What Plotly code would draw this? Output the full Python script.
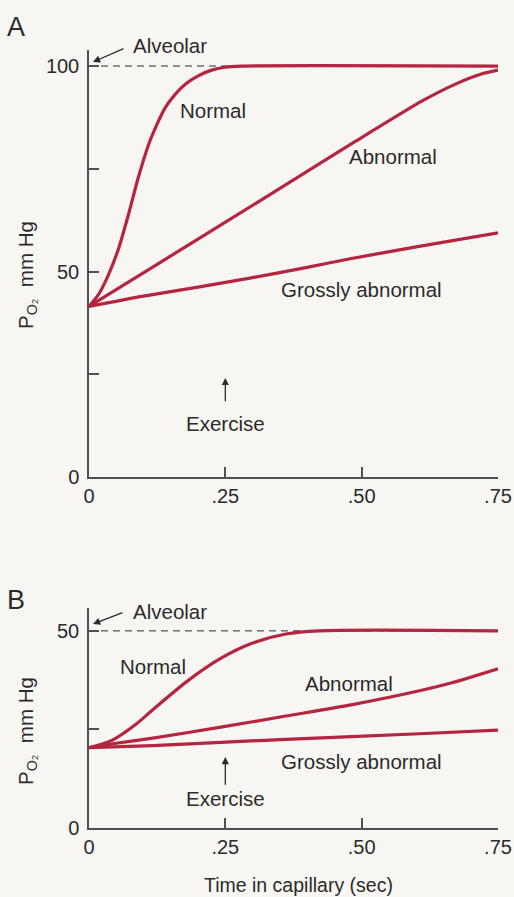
import plotly.graph_objects as go

# ---------------- data ----------------
# Panel A (alveolar PO2 = 100)
tA_normal = [0, 0.017, 0.035, 0.054, 0.072, 0.090, 0.109, 0.124, 0.139, 0.158, 0.176, 0.200, 0.225, 0.249, 0.28, 0.75]
vA_normal = [41.5, 44.3, 49.0, 55.5, 63.7, 72.7, 80.8, 85.6, 89.7, 93.1, 95.5, 97.6, 99.0, 99.7, 100, 100]
tA_abnormal = [0, 0.122, 0.245, 0.367, 0.489, 0.611, 0.672, 0.721, 0.75]
vA_abnormal = [41.5, 51.5, 61.6, 71.6, 81.7, 91.5, 95.6, 98.1, 99.0]
tA_gross = [0, 0.1, 0.2, 0.295, 0.4, 0.479, 0.6, 0.75]
vA_gross = [41.5, 44.0, 46.2, 48.4, 51.0, 53.1, 56.0, 59.4]
alveolar_A = 100

# Panel B (alveolar PO2 = 50)
tB_normal = [0, 0.043, 0.086, 0.117, 0.178, 0.239, 0.30, 0.361, 0.422, 0.75]
vB_normal = [20.4, 22.3, 26.3, 30.0, 37.0, 42.8, 46.9, 49.2, 50, 50]
tB_abnormal = [0, 0.05, 0.117, 0.239, 0.361, 0.483, 0.606, 0.667, 0.75]
vB_abnormal = [20.4, 21.5, 22.8, 25.5, 28.4, 31.3, 34.8, 36.9, 40.4]
tB_gross = [0, 0.117, 0.361, 0.606, 0.75]
vB_gross = [20.4, 20.9, 22.5, 23.9, 24.8]
alveolar_B = 50

x_tickvals = [0, 0.25, 0.5, 0.75]
x_ticktext = ["0", ".25", ".50", ".75"]
x_range = [0, 0.75]
yA_range = [0, 103.9]
yB_range = [0, 55.8]

# ---------------- styling ----------------
RED = "#B5253F"
INK = "#2b2b2b"
AXIS = "#505050"
BG = "#F8F6F2"
FONT = "Liberation Sans, Arial, Helvetica, sans-serif"
TICK = 20
LBL = 20.5

fig = go.Figure()

def curve(t, v, xa, ya, smooth=0.6):
    fig.add_trace(go.Scatter(x=t, y=v, mode="lines", xaxis=xa, yaxis=ya,
                             line=dict(color=RED, width=3.2, shape="spline", smoothing=smooth),
                             hoverinfo="skip", showlegend=False))

def dashed(level, xa, ya):
    fig.add_trace(go.Scatter(x=x_range, y=[level, level], mode="lines", xaxis=xa, yaxis=ya,
                             line=dict(color=INK, width=1, dash="7px,5px"),
                             hoverinfo="skip", showlegend=False))

dashed(alveolar_A, "x", "y")
curve(tA_gross, vA_gross, "x", "y")
curve(tA_abnormal, vA_abnormal, "x", "y")
curve(tA_normal, vA_normal, "x", "y")

dashed(alveolar_B, "x2", "y2")
curve(tB_gross, vB_gross, "x2", "y2")
curve(tB_abnormal, vB_abnormal, "x2", "y2")
curve(tB_normal, vB_normal, "x2", "y2", smooth=0.8)

tickstyle = dict(ticks="inside", ticklen=10, tickwidth=1.5, tickcolor=AXIS)
common_x = dict(range=x_range, showgrid=False, zeroline=False, showline=True, automargin=False,
                linecolor=AXIS, linewidth=1.5, tickvals=x_tickvals, ticktext=x_ticktext,
                tickfont=dict(family=FONT, size=TICK, color=INK), fixedrange=True, **tickstyle)
common_y = dict(showgrid=False, zeroline=False, showline=True, automargin=False,
                linecolor=AXIS, linewidth=1.5, tick0=0, dtick=50, ticklabelstandoff=4,
                minor=dict(dtick=25, **tickstyle),
                tickfont=dict(family=FONT, size=TICK, color=INK), fixedrange=True, **tickstyle)

fig.update_layout(
    width=514, height=897, autosize=False,
    margin=dict(l=89, r=16, t=50, b=69, autoexpand=False),
    paper_bgcolor=BG, plot_bgcolor=BG,
    font=dict(family=FONT, color=INK),
    xaxis=dict(common_x, anchor="y", domain=[0, 1]),
    yaxis=dict(common_y, anchor="x", domain=[0.4512, 1.0], range=yA_range),
    xaxis2=dict(common_x, anchor="y2", domain=[0, 1]),
    yaxis2=dict(common_y, anchor="x2", domain=[0, 0.2828], range=yB_range),
)

ann = []
def text(x, y, s, xref, yref, size=LBL, angle=0):
    ann.append(dict(x=x, y=y, xref=xref, yref=yref, text=s, showarrow=False,
                    font=dict(family=FONT, size=size, color=INK), textangle=angle,
                    xanchor="center", yanchor="middle"))

def arrow(x, y, ax, ay, xref, yref, axref="pixel", ayref="pixel", label="", pad=1):
    ann.append(dict(x=x, y=y, xref=xref, yref=yref, ax=ax, ay=ay, axref=axref, ayref=ayref,
                    text=label, showarrow=True, arrowhead=2, arrowsize=1.1, arrowwidth=1.3,
                    arrowcolor=INK, borderpad=pad,
                    font=dict(family=FONT, size=LBL, color=INK)))

# Panel letters
text(-0.178, (828 - 27) / 778, "A", "paper", "paper", size=27)
text(-0.178, (828 - 600) / 778, "B", "paper", "paper", size=27)

# Alveolar labels + arrows (paper coords)
text((170 - 89) / 409, (828 - 46) / 778, "Alveolar", "paper", "paper")
arrow((93 - 89) / 409, (828 - 62) / 778, 32, -14, "paper", "paper")
text((170 - 89) / 409, (828 - 612) / 778, "Alveolar", "paper", "paper")
arrow((93 - 89) / 409, (828 - 624) / 778, 31, -12, "paper", "paper")

# Curve labels panel A
text(0.227, 89.3, "Normal", "x", "y")
text(0.557, 77.9, "Abnormal", "x", "y")
text(0.499, 45.5, "Grossly abnormal", "x", "y")
arrow(0.25, 24.1, 0.25, 13.1, "x", "y", "x", "y", label="Exercise", pad=10)

# Curve labels panel B
text(0.117, 40.9, "Normal", "x2", "y2")
text(0.477, 36.6, "Abnormal", "x2", "y2")
text(0.499, 16.8, "Grossly abnormal", "x2", "y2")
arrow(0.25, 18.0, 0.25, 7.4, "x2", "y2", "x2", "y2", label="Exercise", pad=2)

# Y axis titles
ytitle = "P<sub>O₂</sub>  mm Hg"
text((27 - 89) / 409, (828 - 275) / 778, ytitle, "paper", "paper", size=20.5, angle=-90)
text((27 - 89) / 409, (828 - 731) / 778, ytitle, "paper", "paper", size=20.5, angle=-90)

# X axis title
text((298 - 89) / 409, (828 - 885) / 778, "Time in capillary (sec)", "paper", "paper", size=19.5)

fig.update_layout(annotations=ann)
fig.write_html("out.html", config={"displayModeBar": False, "responsive": False},
               post_script="document.body.style.margin='0';document.body.style.overflow='hidden';")
